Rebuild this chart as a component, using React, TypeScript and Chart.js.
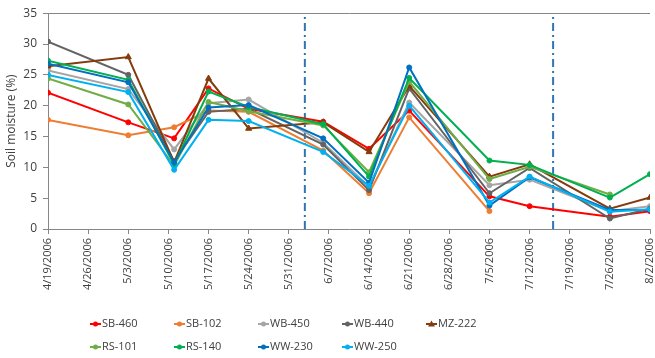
import React, { useEffect, useRef } from 'react';
import { Chart, registerables } from 'chart.js';
Chart.register(...registerables);

// ---------- data ----------
const originDate = '2006-04-19';
const axisEndDate = '2006-08-02';
const sampleDates = ['2006-04-19', '2006-05-03', '2006-05-11', '2006-05-17', '2006-05-24', '2006-06-06', '2006-06-14', '2006-06-21', '2006-07-05', '2006-07-12', '2006-07-26', '2006-08-02'];
const seriesNames = ['SB-460', 'SB-102', 'WB-450', 'WB-440', 'MZ-222', 'RS-101', 'RS-140', 'WW-230', 'WW-250'];
const sb460 = [22.1, 17.3, 14.7, 22.8, 19.5, 17.4, 13.0, 19.2, 5.3, 3.7, 2.0, 2.9];
const sb102 = [17.7, 15.2, 16.5, 19.2, 19.0, 12.7, 5.8, 18.1, 2.9, null, null, null];
const wb450 = [25.7, 22.7, 12.9, 20.4, 21.0, 14.0, 6.8, 20.5, 7.1, 8.0, 2.9, 3.7];
const wb440 = [30.4, 25.0, 11.0, 19.0, 19.5, 13.7, 6.3, 22.8, 5.8, 9.9, 1.7, 3.3];
const mz222 = [26.4, 27.9, 10.8, 24.4, 16.3, 17.3, 12.5, 23.2, 8.5, 10.5, 3.3, 5.1];
const rs101 = [24.4, 20.2, 10.3, 20.6, 19.1, 16.8, 9.2, 23.9, 8.1, 10.1, 5.6, null];
const rs140 = [27.3, 24.2, 10.5, 22.3, 19.8, 17.0, 8.5, 24.5, 11.1, 10.4, 5.1, 8.9];
const ww230 = [26.8, 23.8, 10.8, 19.7, 20.1, 14.7, 7.5, 26.2, 3.8, 8.4, 3.1, 3.1];
const ww250 = [25.0, 22.2, 9.6, 17.7, 17.5, 12.5, 7.0, 20.0, 4.3, 8.5, 2.8, 3.2];
const seriesValues = [sb460, sb102, wb450, wb440, mz222, rs101, rs140, ww230, ww250];
// days after 4/19/2006 of the two dash-dot reference lines
const referenceDays = [44.8, 88.1];
const yMin = 0;
const yMax = 35;
const yStep = 5;
const xStepDays = 7;

// ---------- styles ----------
const seriesColors = ['#FF0000', '#ED7D31', '#A5A5A5', '#636363', '#843C0C', '#70AD47', '#00B050', '#0070C0', '#00B0F0'];
const seriesMarkers = ['circle', 'circle', 'circle', 'circle', 'triangle', 'circle', 'circle', 'circle', 'circle'];
const FONT = '"Open Sans", sans-serif';
const TEXT = '#404040';
const AXIS = '#868686';

const DAY = 86400000;
const toUTC = (s: string) => {
  const [y, m, d] = s.split('-').map(Number);
  return Date.UTC(y, m - 1, d);
};
const dayOf = (s: string) => (toUTC(s) - toUTC(originDate)) / DAY;
const fmtDay = (v: number) => {
  const dt = new Date(toUTC(originDate) + Math.round(v) * DAY);
  return `${dt.getUTCMonth() + 1}/${dt.getUTCDate()}/${dt.getUTCFullYear()}`;
};

const gridLegend = {
  id: 'gridLegend',
  afterDraw(chart: any) {
    const ctx = chart.ctx;
    const items = chart.data.datasets.filter((d: any) => !d.isReference);
    ctx.save();
    items.forEach((ds: any, i: number) => {
      const col = i % 5;
      const row = Math.floor(i / 5);
      const x = 90 + col * 84;
      const y = chart.height - 34 + row * 23;
      ctx.strokeStyle = ds.borderColor;
      ctx.fillStyle = ds.borderColor;
      ctx.lineWidth = 2;
      ctx.beginPath();
      ctx.moveTo(x, y);
      ctx.lineTo(x + 11, y);
      ctx.stroke();
      ctx.beginPath();
      if (ds.pointStyle === 'triangle') {
        ctx.moveTo(x + 5.5, y - 3.5);
        ctx.lineTo(x + 9, y + 2.5);
        ctx.lineTo(x + 2, y + 2.5);
        ctx.closePath();
      } else {
        ctx.arc(x + 5.5, y, 2.5, 0, Math.PI * 2);
      }
      ctx.fill();
      ctx.fillStyle = TEXT;
      ctx.font = `11px ${FONT}`;
      ctx.textBaseline = 'middle';
      ctx.textAlign = 'left';
      ctx.fillText(ds.label, x + 12, y);
    });
    ctx.restore();
  },
};

export default function App() {
  const ref = useRef<HTMLCanvasElement | null>(null);
  useEffect(() => {
    if (!ref.current) return;
    const sampleDays = sampleDates.map(dayOf);
    const datasets: any[] = seriesNames.map((name, i) => ({
      label: name,
      data: sampleDays
        .map((d, j) => ({ x: d, y: seriesValues[i][j] }))
        .filter((p) => p.y !== null),
      borderColor: seriesColors[i],
      backgroundColor: seriesColors[i],
      borderWidth: 2,
      pointStyle: seriesMarkers[i],
      pointRadius: seriesMarkers[i] === 'triangle' ? 3.5 : 2.5,
      pointBorderWidth: 1,
      tension: 0,
      order: seriesNames.length - i,
    }));
    referenceDays.forEach((d) => {
      datasets.push({
        label: '',
        isReference: true,
        data: [{ x: d, y: yMin }, { x: d, y: yMax }],
        borderColor: '#2E75B6',
        borderWidth: 2,
        borderDash: [8, 4, 2, 4],
        pointRadius: 0,
        order: 100,
      });
    });
    const chart = new Chart(ref.current, {
      type: 'line',
      data: { datasets },
      plugins: [gridLegend],
      options: {
        animation: false,
        responsive: false,
        events: [],
        layout: { padding: { left: 0, right: 3, top: 10, bottom: 0 } },
        plugins: { legend: { display: false }, tooltip: { enabled: false } },
        scales: {
          x: {
            type: 'linear',
            min: 0,
            max: dayOf(axisEndDate),
            afterFit: (s: any) => {
              s.height = 129;
              s.paddingLeft = 0;
              s.paddingRight = 0;
            },
            border: { color: AXIS, width: 1 },
            grid: { drawOnChartArea: false, tickLength: 5, color: AXIS },
            ticks: {
              stepSize: xStepDays,
              autoSkip: false,
              maxRotation: 90,
              minRotation: 90,
              padding: 4,
              color: TEXT,
              font: { family: FONT, size: 11 },
              callback: (v: any) => fmtDay(Number(v)),
            },
          },
          y: {
            min: yMin,
            max: yMax,
            afterFit: (s: any) => {
              s.width = 48;
            },
            border: { color: AXIS, width: 1 },
            grid: {
              tickLength: 5,
              tickColor: AXIS,
              color: (c: any) => (c.tick && c.tick.value === yMax ? AXIS : 'rgba(0,0,0,0)'),
            },
            ticks: {
              stepSize: yStep,
              padding: 6,
              color: TEXT,
              font: { family: FONT, size: 12 },
            },
            title: {
              display: true,
              text: 'Soil moisture (%)',
              color: TEXT,
              font: { family: FONT, size: 12 },
              padding: { top: 4, bottom: 0 },
            },
          },
        },
      } as any,
    });
    return () => chart.destroy();
  }, []);
  return (
    <div style={{ position: 'absolute', left: 0, top: 0, width: 655, height: 358, background: '#fff' }}>
      <canvas ref={ref} width={655} height={358} style={{ display: 'block' }} />
    </div>
  );
}
